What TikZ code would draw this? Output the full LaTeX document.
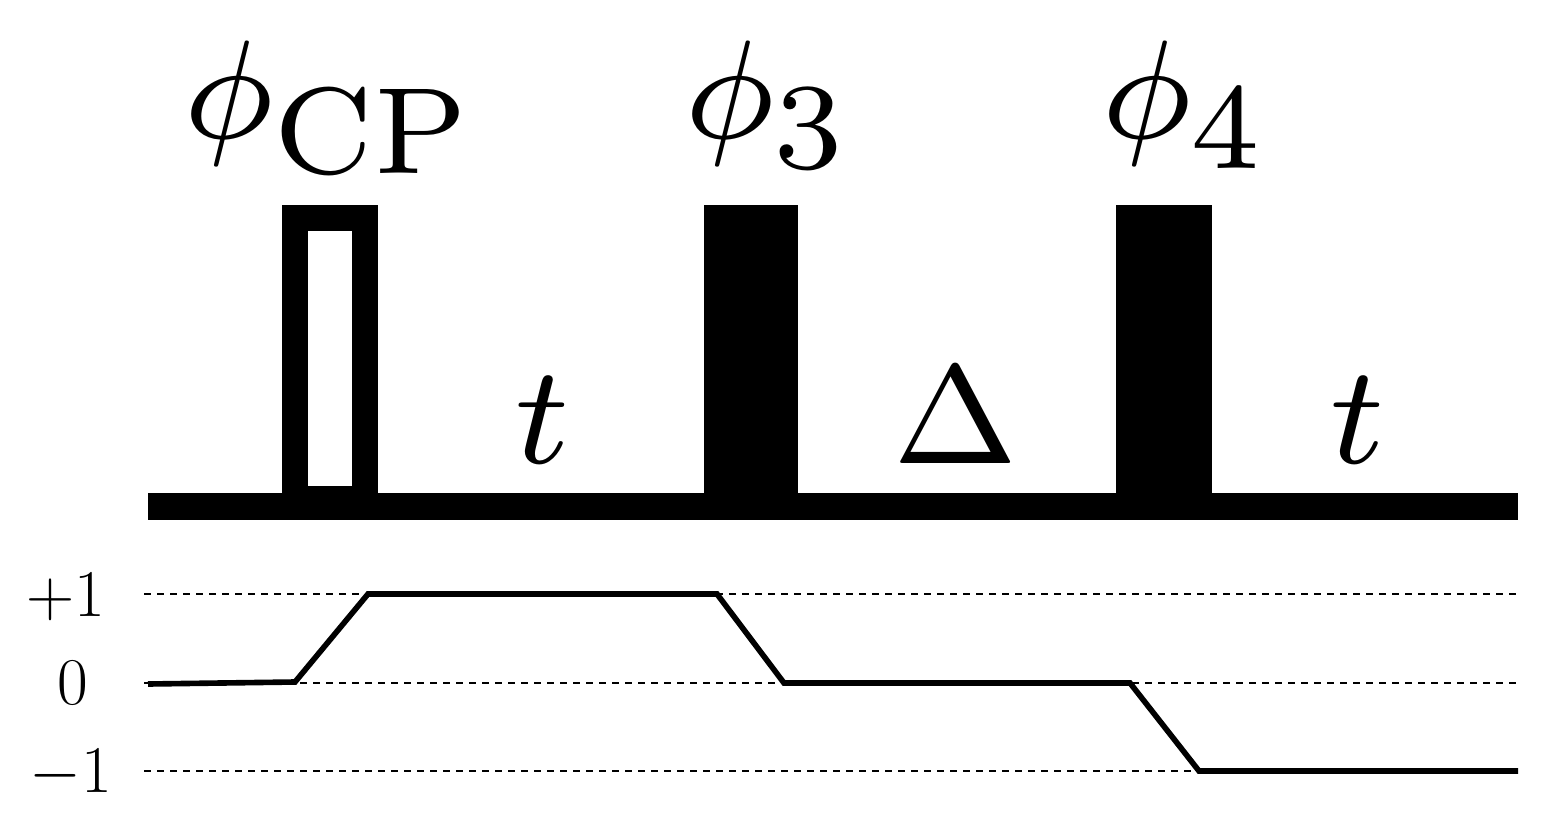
\RequirePackage{fix-cm}
\documentclass[tikz,border=0pt]{standalone}
\DeclareMathSizes{8}{8}{7}{5}
\DeclareMathSizes{38}{38}{27}{19}
\tikzset{
  pulse/.style={fill=black},
  cppulse/.style={draw=black, line width=14.8pt},
  level/.style={dash pattern=on 4pt off 3.4pt, line width=1.6pt},
  coh/.style={line width=3.2pt},
  biglbl/.style={font=\fontsize{8}{9.5}\selectfont, scale=10, inner sep=0pt, anchor=base},
  lvllbl/.style={font=\fontsize{38}{40}\selectfont, inner sep=0pt, anchor=base},
}
\begin{document}
\begin{tikzpicture}[x=0.02cm, y=-0.02cm]
  \useasboundingbox (0,0) rectangle (1546,822);

  % Channel bar
  \fill (148,493) rectangle (1518,520);

  % Pulses
  \draw[cppulse] (295,218) rectangle (365,499);
  \fill[pulse] (704,205) rectangle (798,493);
  \fill[pulse] (1116,205) rectangle (1212,493);

  % Phases
  \node[biglbl] (phicp) at (331,138) {$\phi_{\mathrm{CP}}$};
  \node[biglbl] (phi3) at (769,138) {$\phi_3$};
  \node[biglbl] (phi4) at (1186,138) {$\phi_4$};

  % Delays
  \node[biglbl] (t1) at (542,463) {$t$};
  \node[biglbl] (delta) at (956,463) {$\Delta$};
  \node[biglbl] (t2) at (1357,463) {$t$};

  % Coherence levels
  \node[lvllbl] (lp) at (66,616) {$+1$};
  \node[lvllbl] (lz) at (73,704) {$0$};
  \node[lvllbl] (lm) at (71,792) {$-1$};
  \draw[level] (144,594) -- (1518,594);
  \draw[level] (144,683) -- (1518,683);
  \draw[level] (144,771) -- (1518,771);

  % Pathway
  \draw[coh] (148,684) -- (295,682) -- (368,594) -- (717,594)
    -- (784,683) -- (1130,683) -- (1199,771) -- (1518,771);
\end{tikzpicture}
\end{document}
